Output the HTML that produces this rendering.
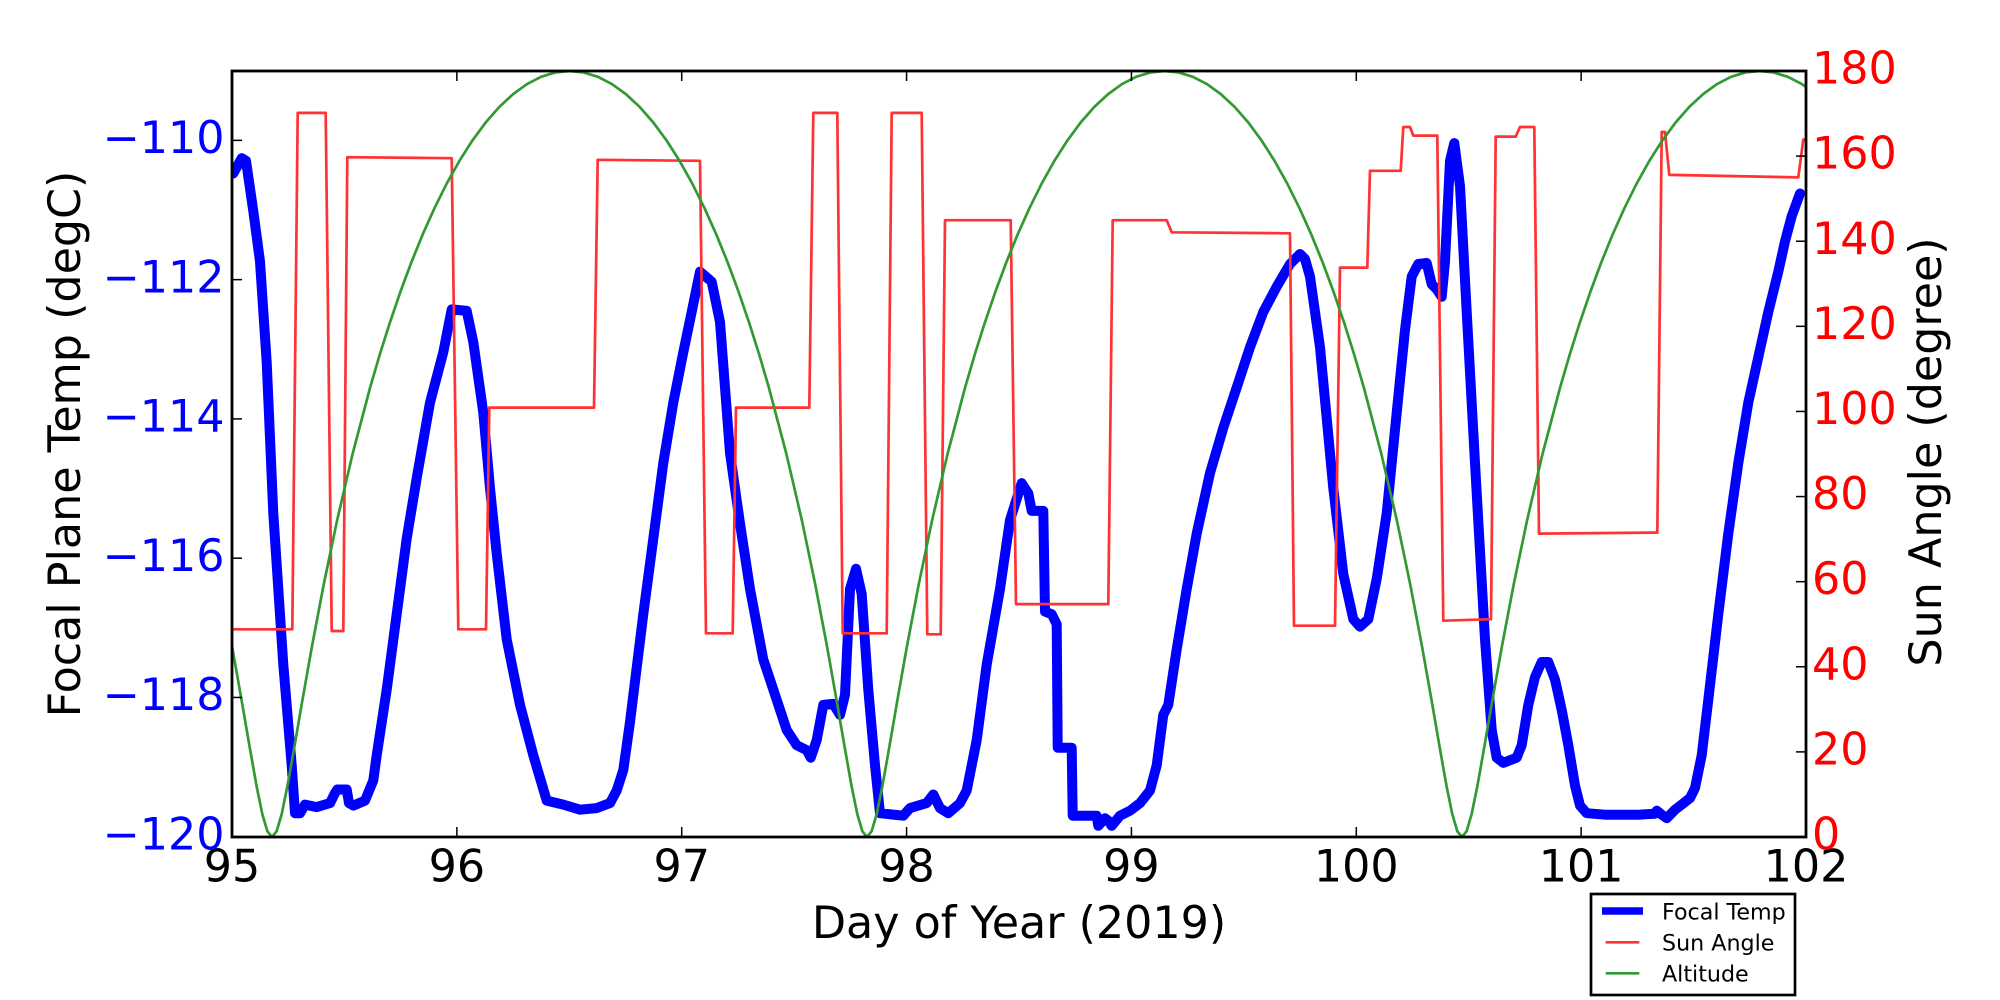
<!DOCTYPE html>
<html>
<head>
<meta charset="utf-8">
<style>
html,body{margin:0;padding:0;background:#fff;overflow:hidden;}
svg{display:block;}
text{font-family:"DejaVu Sans","Liberation Sans",sans-serif;}
</style>
</head>
<body>
<svg width="2000" height="1000" viewBox="0 0 2000 1000" xmlns="http://www.w3.org/2000/svg">
<defs>
<clipPath id="ax"><rect x="232" y="71" width="1574" height="766"/></clipPath>
</defs>
<rect x="0" y="0" width="2000" height="1000" fill="#fff"/>

<g clip-path="url(#ax)" fill="none" stroke-linejoin="round">
<!-- Focal Temp -->
<polyline stroke="#0000ff" stroke-width="10" stroke-linecap="round" points="233.3,173.4 241.7,158.2 246,160.8 253.3,211.1 260,261.5 266.7,362.3 273.3,513.4 283.3,664.6 291.7,765.3 295,813.2 300,813.2 305,804.6 316.7,807.1 330,803.1 335,793 337.3,789.5 346.7,789.5 349,803.1 353.3,805.6 365,800.6 373.3,780.4 376.7,755.3 386.7,689.8 396.7,614.2 406.7,538.6 416.7,478.2 430,402.6 443.3,352.2 451.7,309.4 466.7,310.9 473.3,342.1 483.3,412.7 490,488.2 496.7,553.7 506.7,639.4 520,704.9 533.3,755.3 546.7,800.6 563.3,804.6 580,809.7 596.7,808.1 610,803.1 616.7,790.5 623.3,770 630,722 643.3,614.2 653.3,538.6 663.3,463 673.3,402.6 683.3,352.2 691.7,311.9 700,271.6 711.7,281.7 720,322 730,453 740,523.5 750,589 763.3,659.5 776.7,699.8 786.7,730 796.7,745.2 806.7,750.2 810.7,757.7 816.7,740.1 823.3,704.9 833.3,703.9 840,714.9 845,694.8 850,589 856,568.8 861.7,594 868.3,689.8 875,765.3 880,813.2 903.3,815.7 910,808.1 926.7,803.1 933.3,794.5 940,808.1 948.3,813.2 960,803.1 966.7,790.5 976.7,740.1 986.7,664.6 1000,589 1010,520 1021.7,483.2 1028.3,493.3 1031.7,510.9 1043.3,510.9 1045,611.6 1051.7,614.2 1056.7,624.2 1057.7,747.7 1071.7,747.7 1072.7,815.7 1096.7,815.7 1098.3,825.8 1105,818.2 1108.3,820.7 1111.7,825.8 1120,815.7 1130,810.7 1140,803.1 1150,790.5 1156.7,765.3 1163.3,714.9 1168.3,704.9 1176.7,649.4 1186.7,589 1196.7,533.6 1210,473.1 1223.3,427.8 1236.7,387.5 1250,347.2 1263.3,311.9 1276.7,286.7 1290,264 1300,254 1305,259 1310,276.6 1320,347.2 1333.3,488.2 1343.3,573.9 1353.3,619.2 1360,626.7 1368.3,619.2 1376.7,578.9 1386.7,513.4 1396.7,412.7 1405,330 1411.7,276.6 1418.3,264 1426.7,263 1431.7,284.2 1436.7,289.2 1441.7,296.8 1445,261.5 1450,160.8 1454.3,143.1 1460,186 1466.7,311.9 1475,463 1485,639.4 1491.7,730 1496.7,757.7 1503.3,762.8 1516.7,757.7 1521.7,745.2 1528.3,704.9 1535,677.1 1541.7,662 1548.3,662 1555,679.6 1561.7,709.9 1568.3,745.2 1575,785.5 1580,805.6 1586.7,813.2 1605,814.7 1638.3,814.7 1655,813.7 1656.7,810.7 1661.7,814.7 1666.7,818.2 1675,809.7 1681.7,804.6 1690,798.1 1695,788 1701.7,755.3 1708.3,699.8 1718.3,614.2 1728.3,533.6 1738.3,463 1748.3,402.6 1758.3,357.2 1768.3,311.9 1778.3,271.6 1785,241.4 1791.7,216.2 1800,193.5"/>

<!-- Sun Angle -->
<polyline stroke="#ff3333" stroke-width="2.7" points="232,629.3 292.3,629.3 297.7,112.9 325.7,112.9 331.7,631 343.3,631 347.3,157.2 451.7,158.2 458.3,629.3 486,629.3 489.3,407.6 594,407.6 597.7,159.8 700,160.8 706,633.3 732.7,633.3 736,407.6 809.3,407.6 813.3,112.9 837.3,112.9 842.7,633.3 886.7,633.3 891.7,112.9 921.7,112.9 927.3,634.3 940.7,634.3 945,220.2 1010.7,220.2 1016,604.1 1108.3,604.1 1112.7,220.2 1166.7,220.2 1171.7,232.3 1290,233.3 1294,625.7 1335,625.7 1340,267.6 1367.3,267.6 1370,170.8 1400.7,170.8 1403.3,127 1410,127 1413.3,135.6 1437.3,135.6 1443.3,620.7 1491,619.2 1495.7,136.6 1515.7,136.6 1520,127 1534.3,127 1539,533.6 1657.3,532.6 1661.7,132 1665,132 1669.3,174.9 1798.3,177.4 1803.3,139.6 1808,139"/>

<!-- Altitude -->
<polyline stroke="#339933" stroke-width="2.7" points="220.38,584.99 231.88,645.5 241.59,700.19 249.72,747.39 256.51,785.69 262.26,813.9 267.31,831.18 272,837 276.69,831.18 281.74,813.9 287.49,785.69 294.28,747.39 302.41,700.19 312.12,645.5 323.62,584.99 337.07,520.51 352.57,454 370.13,387.49 379.68,354.87 389.73,323.01 400.27,292.14 411.28,262.5 422.74,234.32 434.63,207.81 446.91,183.18 459.56,160.61 472.54,140.27 485.82,122.31 499.36,106.88 513.12,94.1 527.05,84.05 541.12,76.82 555.28,72.46 569.49,71 583.7,72.46 597.86,76.82 611.93,84.05 625.86,94.1 639.62,106.88 653.16,122.31 666.44,140.27 679.42,160.61 692.07,183.18 704.35,207.81 716.24,234.32 727.7,262.5 738.71,292.14 749.25,323.01 759.3,354.87 768.85,387.49 786.41,454 801.91,520.51 815.36,584.99 826.86,645.5 836.57,700.19 844.7,747.39 851.49,785.69 857.24,813.9 862.29,831.18 866.98,837 871.67,831.18 876.72,813.9 882.47,785.69 889.26,747.39 897.39,700.19 907.1,645.5 918.6,584.99 932.05,520.51 947.55,454 965.11,387.49 974.66,354.87 984.71,323.01 995.25,292.14 1006.26,262.5 1017.72,234.32 1029.61,207.81 1041.89,183.18 1054.54,160.61 1067.52,140.27 1080.8,122.31 1094.34,106.88 1108.1,94.1 1122.03,84.05 1136.1,76.82 1150.26,72.46 1164.47,71 1178.68,72.46 1192.84,76.82 1206.91,84.05 1220.84,94.1 1234.6,106.88 1248.14,122.31 1261.42,140.27 1274.4,160.61 1287.05,183.18 1299.33,207.81 1311.22,234.32 1322.68,262.5 1333.69,292.14 1344.23,323.01 1354.28,354.87 1363.83,387.49 1381.39,454 1396.89,520.51 1410.34,584.99 1421.84,645.5 1431.55,700.19 1439.68,747.39 1446.47,785.69 1452.22,813.9 1457.27,831.18 1461.96,837 1466.65,831.18 1471.7,813.9 1477.45,785.69 1484.24,747.39 1492.37,700.19 1502.08,645.5 1513.58,584.99 1527.03,520.51 1542.53,454 1560.09,387.49 1569.64,354.87 1579.69,323.01 1590.23,292.14 1601.24,262.5 1612.7,234.32 1624.59,207.81 1636.87,183.18 1649.52,160.61 1662.5,140.27 1675.78,122.31 1689.32,106.88 1703.08,94.1 1717.01,84.05 1731.08,76.82 1745.24,72.46 1759.45,71 1773.66,72.46 1787.82,76.82 1801.89,84.05 1815.82,94.1"/>
</g>

<!-- ticks -->
<g stroke="#000" stroke-width="1.5">
<line x1="456.86" y1="837" x2="456.86" y2="827"/>
<line x1="681.71" y1="837" x2="681.71" y2="827"/>
<line x1="906.57" y1="837" x2="906.57" y2="827"/>
<line x1="1131.43" y1="837" x2="1131.43" y2="827"/>
<line x1="1356.29" y1="837" x2="1356.29" y2="827"/>
<line x1="1581.14" y1="837" x2="1581.14" y2="827"/>
<line x1="456.86" y1="71" x2="456.86" y2="81"/>
<line x1="681.71" y1="71" x2="681.71" y2="81"/>
<line x1="906.57" y1="71" x2="906.57" y2="81"/>
<line x1="1131.43" y1="71" x2="1131.43" y2="81"/>
<line x1="1356.29" y1="71" x2="1356.29" y2="81"/>
<line x1="1581.14" y1="71" x2="1581.14" y2="81"/>
<line x1="232" y1="140.36" x2="242" y2="140.36"/>
<line x1="232" y1="279.64" x2="242" y2="279.64"/>
<line x1="232" y1="418.91" x2="242" y2="418.91"/>
<line x1="232" y1="558.18" x2="242" y2="558.18"/>
<line x1="232" y1="697.45" x2="242" y2="697.45"/>
<line x1="1806" y1="751.89" x2="1796" y2="751.89"/>
<line x1="1806" y1="666.78" x2="1796" y2="666.78"/>
<line x1="1806" y1="581.67" x2="1796" y2="581.67"/>
<line x1="1806" y1="496.56" x2="1796" y2="496.56"/>
<line x1="1806" y1="411.44" x2="1796" y2="411.44"/>
<line x1="1806" y1="326.33" x2="1796" y2="326.33"/>
<line x1="1806" y1="241.22" x2="1796" y2="241.22"/>
<line x1="1806" y1="156.11" x2="1796" y2="156.11"/>
</g>

<!-- frame -->
<rect x="232" y="71" width="1574" height="766" fill="none" stroke="#000" stroke-width="2.8"/>

<!-- x tick labels -->
<g font-size="44.4" fill="#000" text-anchor="middle">
<text x="232" y="881.7">95</text>
<text x="456.86" y="881.7">96</text>
<text x="681.71" y="881.7">97</text>
<text x="906.57" y="881.7">98</text>
<text x="1131.43" y="881.7">99</text>
<text x="1356.29" y="881.7">100</text>
<text x="1581.14" y="881.7">101</text>
<text x="1806" y="881.7">102</text>
</g>

<!-- left tick labels -->
<g font-size="44.4" fill="#0000ff" text-anchor="end">
<text x="224.5" y="153">−110</text>
<text x="224.5" y="292.3">−112</text>
<text x="224.5" y="431.5">−114</text>
<text x="224.5" y="570.8">−116</text>
<text x="224.5" y="710">−118</text>
<text x="224.5" y="849.5">−120</text>
</g>

<!-- right tick labels -->
<g font-size="44.4" fill="#ff0000" text-anchor="start">
<text x="1812" y="849.5">0</text>
<text x="1812" y="764.4">20</text>
<text x="1812" y="679.3">40</text>
<text x="1812" y="594.2">60</text>
<text x="1812" y="509.1">80</text>
<text x="1812" y="424">100</text>
<text x="1812" y="338.9">120</text>
<text x="1812" y="253.8">140</text>
<text x="1812" y="168.7">160</text>
<text x="1812" y="83.6">180</text>
</g>

<!-- axis labels -->
<text x="1019" y="938" font-size="44.4" text-anchor="middle" fill="#000">Day of Year (2019)</text>
<text transform="translate(80,444) rotate(-90)" font-size="44.4" text-anchor="middle" fill="#000">Focal Plane Temp (degC)</text>
<text transform="translate(1941,452) rotate(-90)" font-size="44.4" text-anchor="middle" fill="#000">Sun Angle (degree)</text>

<!-- legend -->
<rect x="1591" y="894" width="204" height="101" fill="#fff" stroke="#000" stroke-width="2.7"/>
<line x1="1602" y1="911" x2="1643" y2="911" stroke="#0000ff" stroke-width="7.5"/>
<line x1="1605.7" y1="942.3" x2="1639.3" y2="942.3" stroke="#ff3333" stroke-width="2.7"/>
<line x1="1605.7" y1="973.3" x2="1639.3" y2="973.3" stroke="#339933" stroke-width="2.7"/>
<g font-size="22.2" fill="#000">
<text x="1662" y="919.3">Focal Temp</text>
<text x="1662" y="950.3">Sun Angle</text>
<text x="1662" y="981.3">Altitude</text>
</g>
</svg>
</body>
</html>
